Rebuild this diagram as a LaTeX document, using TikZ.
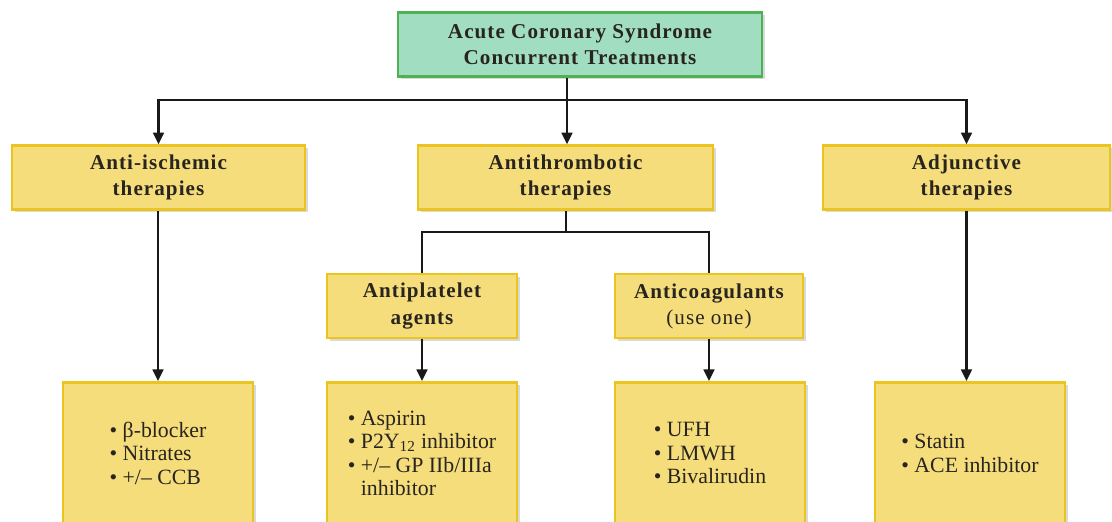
\documentclass[tikz,border=0pt]{standalone}
\usepackage{fontspec}
\setmainfont{Liberation Serif}
\newfontfamily\headfont[LetterSpace=5]{Liberation Serif}
\usetikzlibrary{positioning,shadows,arrows.meta}

\definecolor{topfill}{RGB}{160,221,193}
\definecolor{topline}{RGB}{78,178,82}
\definecolor{boxfill}{RGB}{245,221,124}
\definecolor{boxline}{RGB}{236,196,32}
\definecolor{ink}{RGB}{40,36,30}

\begin{document}
\begin{tikzpicture}[x=0.025cm, y=-0.025cm,
    boxshadow/.style={drop shadow={shadow xshift=2pt, shadow yshift=-2pt, opacity=0.25, fill=black!60}},
    headbox/.style={draw=boxline, fill=boxfill, line width=1.8pt, boxshadow,
        minimum height=1.6cm, inner sep=0pt, align=center, text=ink,
        font=\headfont\fontsize{15}{18.5}\selectfont\bfseries},
    topbox/.style={headbox, draw=topline, fill=topfill},
    listbox/.style={draw=boxline, fill=boxfill, line width=1.8pt, boxshadow,
        minimum width=4.75cm, minimum height=3.55cm, inner sep=0pt, anchor=north,
        align=left, text=ink, font=\fontsize{15.5}{16.6}\selectfont},
    link/.style={line width=1.6pt, draw=black!90},
    arrow/.style={link, -{Triangle[length=2.9mm, width=2.7mm]}}]

    \useasboundingbox (0,0) rectangle (1112,521);
    \clip (0,0) rectangle (1112,521);

    % headings
    \node[topbox, minimum width=9.1cm] (acs) at (580,44.5) {Acute Coronary Syndrome\\Concurrent Treatments};

    \node[headbox, minimum width=7.325cm] (antiisch) at (158.5,177.5) {Anti-ischemic\\therapies};
    \node[headbox, minimum width=7.375cm] (antithromb) at (565.5,177.5) {Antithrombotic\\therapies};
    \node[headbox, minimum width=7.175cm] (adjunct) at (966.5,177.5) {Adjunctive\\therapies};

    \node[headbox, minimum width=4.75cm] (antiplat) at (422,306) {Antiplatelet\\agents};
    \node[headbox, minimum width=4.7cm] (anticoag) at (709,306) {Anticoagulants\\\mdseries(use one)};

    % drug lists
    \node[listbox] (ischlist) at (158,381) {\textbullet\ β-blocker\\\textbullet\ Nitrates\\\textbullet\ +/-- CCB};
    \node[listbox] (platlist) at (422,381) {\textbullet\ Aspirin\\\textbullet\ P2Y\textsubscript{12} inhibitor\\\textbullet\ +/-- GP IIb/IIIa\\\phantom{\textbullet\ }inhibitor};
    \node[listbox] (coaglist) at (710,381) {\textbullet\ UFH\\\textbullet\ LMWH\\\textbullet\ Bivalirudin};
    \node[listbox] (adjlist) at (970,381) {\textbullet\ Statin\\\textbullet\ ACE inhibitor};

    % connectors
    \coordinate (split) at (567,100);
    \coordinate (split2) at (566,232);

    \path[link] (acs.south -| split) -- (split);
    \path[arrow] (split) -| (antiisch.north);
    \path[arrow] (split) -| (adjunct.north);
    \path[arrow] (split) -- (split |- antithromb.north);

    \path[link] (antithromb.south -| split2) -- (split2);
    \path[link] (split2) -| (antiplat.north);
    \path[link] (split2) -| (anticoag.north);

    \path[arrow] (antiisch.south -| ischlist.north) -- (ischlist.north);
    \path[arrow] (antiplat.south) -- (platlist.north);
    \path[arrow] (anticoag.south) -- (anticoag.south |- coaglist.north);
    \path[arrow] (adjunct.south) -- (adjunct.south |- adjlist.north);

\end{tikzpicture}
\end{document}
